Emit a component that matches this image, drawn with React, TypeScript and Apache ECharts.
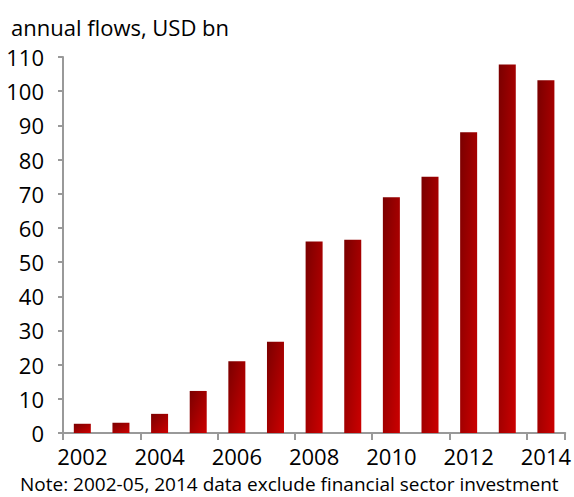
import React, { useEffect, useRef } from "react";
import * as echarts from "echarts";

const years = ["2002","2003","2004","2005","2006","2007","2008","2009","2010","2011","2012","2013","2014"];
const flows = [2.7, 3.0, 5.6, 12.3, 21.0, 26.7, 56.0, 56.5, 69.0, 75.0, 88.0, 107.8, 103.2];
const titleText = "annual flows, USD bn";
const noteText = "Note: 2002-05, 2014 data exclude financial sector investment";

const FONT = "'Open Sans', sans-serif";

export default function App() {
  const ref = useRef<HTMLDivElement>(null);
  useEffect(() => {
    document.body.style.margin = "0";
    const chart = echarts.init(ref.current!, null, { renderer: "svg" });
    chart.setOption({
      animation: false,
      backgroundColor: "#ffffff",
      textStyle: { fontFamily: FONT },
      title: [
        { text: titleText, left: 6, top: 9, textStyle: { fontFamily: FONT, fontSize: 22, lineHeight: 26, fontWeight: "normal", color: "#000" } },
        { text: noteText, left: 15, top: 469, textStyle: { fontFamily: FONT, fontSize: 19, lineHeight: 20, fontWeight: "normal", color: "#000" } },
      ],
      grid: { left: 63, right: 7, top: 57, bottom: 64 },
      xAxis: {
        type: "category",
        data: years,
        boundaryGap: true,
        axisLine: { lineStyle: { color: "#999999", width: 2 } },
        axisTick: { show: true, interval: 1, length: 7, lineStyle: { color: "#999999", width: 2 } },
        axisLabel: { interval: 1, color: "#000", fontSize: 22, margin: 12, fontFamily: FONT },
      },
      yAxis: {
        type: "value",
        min: 0,
        max: 110,
        interval: 10,
        splitLine: { show: false },
        axisLine: { show: true, lineStyle: { color: "#999999", width: 2 } },
        axisTick: { show: true, length: 5, lineStyle: { color: "#999999", width: 2 } },
        axisLabel: { color: "#000", fontSize: 22, margin: 19, fontFamily: FONT },
      },
      series: [
        {
          type: "bar",
          data: flows,
          barWidth: 17,
          itemStyle: {
            color: new echarts.graphic.LinearGradient(0, 0, 1, 1, [
              { offset: 0, color: "#7a0000" },
              { offset: 1, color: "#cc0000" },
            ]),
          },
        },
      ],
    });
    return () => chart.dispose();
  }, []);
  return <div ref={ref} style={{ width: 574, height: 497 }} />;
}
